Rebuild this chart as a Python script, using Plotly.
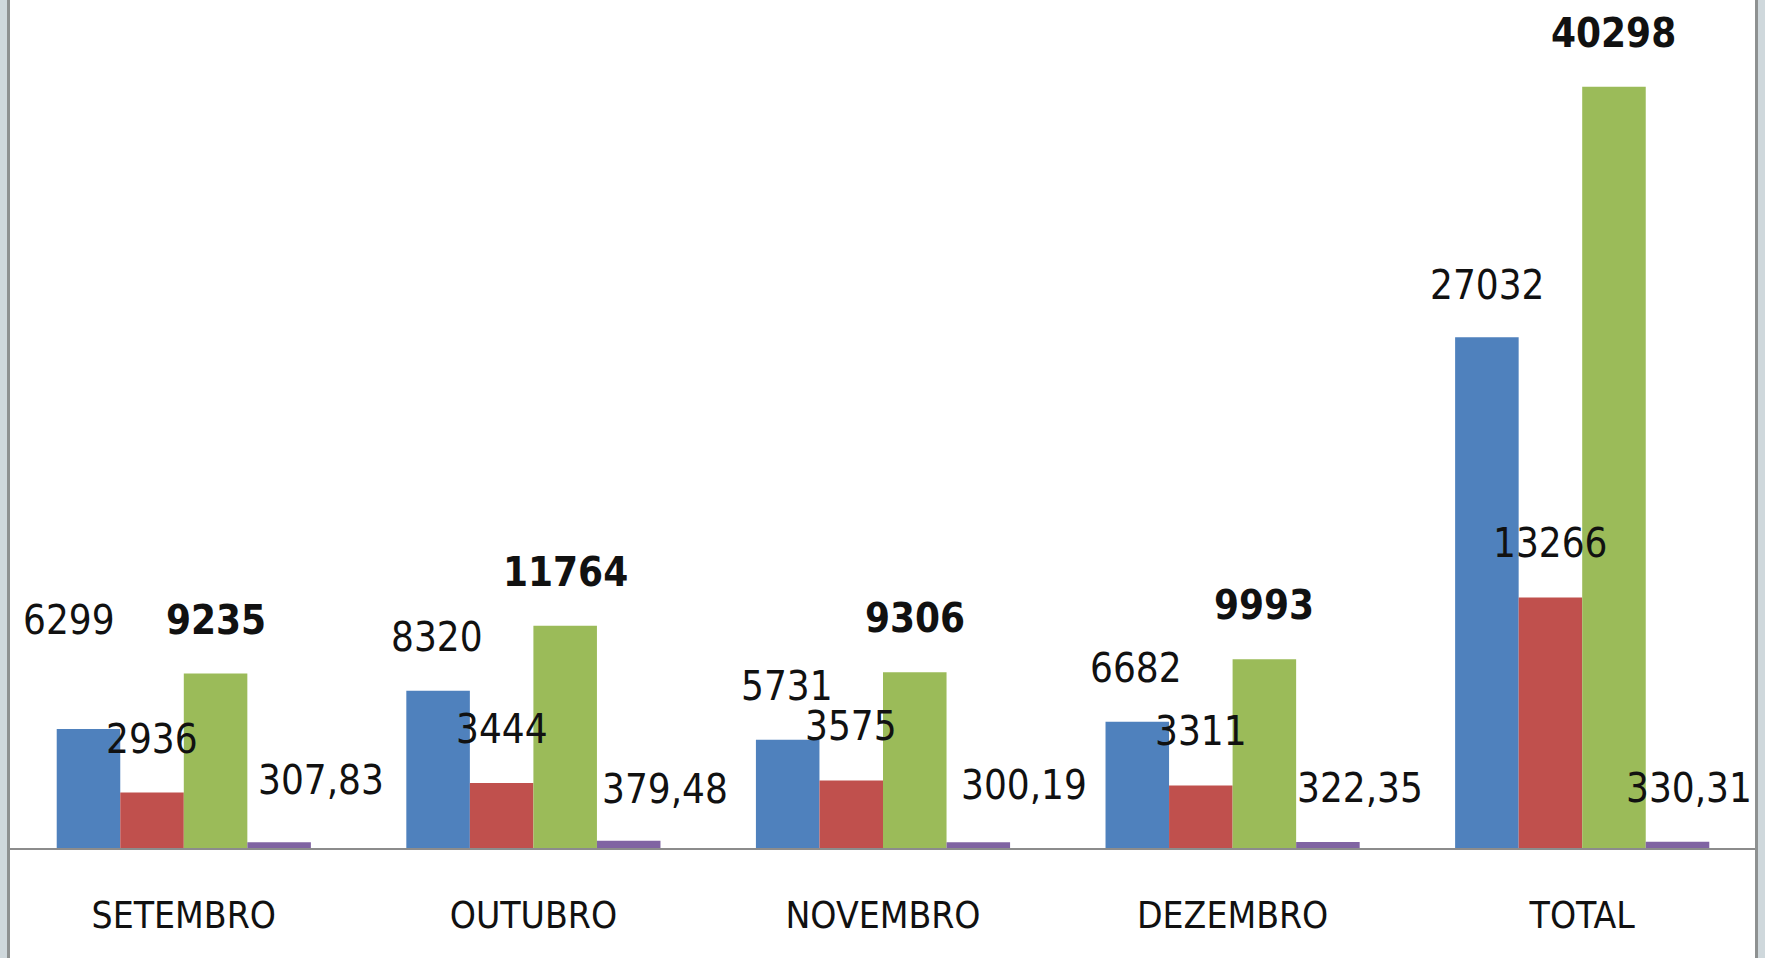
import plotly.graph_objects as go

categories = ["SETEMBRO", "OUTUBRO", "NOVEMBRO", "DEZEMBRO", "TOTAL"]
serie_azul = [6299, 8320, 5731, 6682, 27032]
serie_vermelha = [2936, 3444, 3575, 3311, 13266]
serie_verde = [9235, 11764, 9306, 9993, 40298]
serie_roxa = [307.83, 379.48, 300.19, 322.35, 330.31]

def fmt(v):
    if float(v).is_integer():
        return str(int(v))
    return f"{v:.2f}".replace(".", ",")

W, H = 1765, 958
ML, MR, MT, MB = 9, 8, 0, 110
PW = W - ML - MR
PH = H - MT - MB
PX_PER_UNIT = 0.01889
YMAX = PH / PX_PER_UNIT

FONT = "Liberation Sans Narrow, Arial Narrow, DejaVu Sans Condensed, sans-serif"

series = [
    ("azul", serie_azul, "#4F81BD", False),
    ("vermelha", serie_vermelha, "#C0504D", False),
    ("verde", serie_verde, "#9BBB59", True),
    ("roxa", serie_roxa, "#8064A2", False),
]

# label pixel shifts (style): per series, per category (dx, dy upward)
label_dx = {
    "azul": [-19, -1, -1, -1, 0],
    "vermelha": [0, 0, 0, 0, 0],
    "verde": [0, 0, 0, 0, 0],
    "roxa": [42, 36, 46, 32, 11],
}
label_dy = {
    "azul": [109, 54, 54, 54, 52],
    "vermelha": [54, 54, 54, 54, 54],
    "verde": [54, 54, 54, 54, 54],
    "roxa": [62, 52, 57, 54, 54],
}

fig = go.Figure()
annotations = []
for si, (name, vals, color, bold) in enumerate(series):
    fig.add_trace(go.Bar(x=categories, y=vals, name=name, marker=dict(color=color, line=dict(width=0)),
                         offsetgroup=str(si)))

n = len(series)
bargap = 0.273
bw = (1 - bargap) / n
for si, (name, vals, color, bold) in enumerate(series):
    off = -0.5 * (1 - bargap) + bw * (si + 0.5)
    for ci, v in enumerate(vals):
        txt = fmt(v)
        if bold:
            txt = f"<b>{txt}</b>"
        annotations.append(dict(
            x=ci + off, y=v, xref="x", yref="y", text=txt, showarrow=False,
            xanchor="center", yanchor="middle",
            xshift=label_dx[name][ci], yshift=label_dy[name][ci],
            font=dict(family=FONT, size=40, color="#111111"),
        ))

def px_to_paper_x(px):
    return (px - ML) / PW

def px_to_paper_y(py):
    return (H - MB - py) / PH

shapes = [
    dict(type="rect", xref="paper", yref="paper", x0=px_to_paper_x(0), x1=px_to_paper_x(7),
         y0=px_to_paper_y(H), y1=px_to_paper_y(0), fillcolor="#CFD8DC", line=dict(width=0), layer="above"),
    dict(type="rect", xref="paper", yref="paper", x0=px_to_paper_x(7), x1=px_to_paper_x(10),
         y0=px_to_paper_y(H), y1=px_to_paper_y(0), fillcolor="#8E9191", line=dict(width=0), layer="above"),
    dict(type="rect", xref="paper", yref="paper", x0=px_to_paper_x(1755), x1=px_to_paper_x(1758),
         y0=px_to_paper_y(H), y1=px_to_paper_y(0), fillcolor="#8E9191", line=dict(width=0), layer="above"),
    dict(type="rect", xref="paper", yref="paper", x0=px_to_paper_x(1758), x1=px_to_paper_x(W),
         y0=px_to_paper_y(H), y1=px_to_paper_y(0), fillcolor="#CFD8DC", line=dict(width=0), layer="above"),
]

fig.update_layout(
    width=W, height=H,
    margin=dict(l=ML, r=MR, t=MT, b=MB, pad=0),
    paper_bgcolor="white", plot_bgcolor="white",
    barmode="group", bargap=bargap, bargroupgap=0,
    showlegend=False,
    annotations=annotations,
    shapes=shapes,
    xaxis=dict(
        type="category", range=[-0.5, 4.5], showgrid=False, zeroline=False,
        showline=True, linecolor="#8C8C8C", linewidth=2, ticks="",
        tickfont=dict(family=FONT, size=37, color="#111111"),
        ticklabelstandoff=34,
    ),
    yaxis=dict(range=[0, YMAX], showgrid=False, zeroline=False, showticklabels=False,
               showline=False, ticks=""),
)

fig.write_html(
    "out.html",
    config={"displayModeBar": False},
    post_script="document.body.style.margin='0';document.body.style.overflow='hidden';",
)
